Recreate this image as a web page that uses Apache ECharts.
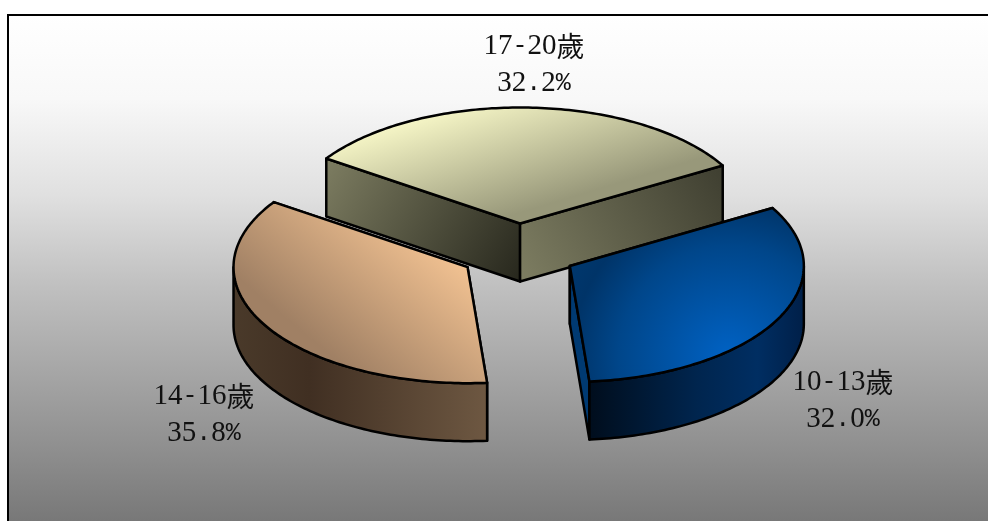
<!DOCTYPE html>
<html>
<head>
<meta charset="utf-8">
<style>
  html, body { margin: 0; padding: 0; background: #fff; }
  #chart { width: 988px; height: 521px; }
</style>
<script src="https://cdn.jsdelivr.net/npm/echarts@6/dist/echarts.min.js"></script>
</head>
<body>
<div id="chart"></div>
<script>
var categories = ["10-13歲", "14-16歲", "17-20歲"];
var shares = [32.0, 35.8, 32.2];

// pie projection, slices run clockwise from startAngle
var startAngle = 30;
var cx = 518, cy = 252.5, rx = 234, ry = 116, depth = 58, explode = 0.25;

var labelPos = [[843, 382, 419], [204, 396, 433], [534, 46, 83]];

var faces = [
  {
    top: { type: "radial", x: 0.68, y: 0.85, r: 1.05, colorStops: [
      { offset: 0, color: "#0062c4" }, { offset: 0.6, color: "#00468a" },
      { offset: 0.85, color: "#003468" }, { offset: 1, color: "#00386e" }] },
    outer: { type: "linear", x: 0, y: 0, x2: 1, y2: 0, colorStops: [
      { offset: 0, color: "#000d1c" }, { offset: 0.5, color: "#00254e" },
      { offset: 0.78, color: "#002e62" }, { offset: 1, color: "#001f48" }] },
    cutStart: "#003060", cutEnd: "#003a72"
  },
  {
    top: { type: "linear", x: 0.22, y: 0.65, x2: 0.61, y2: 0, colorStops: [
      { offset: 0, color: "#a08064" }, { offset: 1, color: "#f2c292" }] },
    outer: { type: "linear", x: 0, y: 0, x2: 1, y2: 0, colorStops: [
      { offset: 0, color: "#4a3a2a" }, { offset: 0.3, color: "#402f22" }, { offset: 1, color: "#6e5842" }] },
    cutStart: "#4a3a2a", cutEnd: "#6e5842"
  },
  {
    top: { type: "linear", x: 0.3, y: 0, x2: 0.39, y2: 1, colorStops: [
      { offset: 0, color: "#f8f8c8" }, { offset: 1, color: "#98987a" }] },
    outer: "#6e6e58",
    // cutStart is the wall left of the apex, cutEnd the one on the right
    cutStart: { type: "linear", x: 0, y: 0, x2: 1, y2: 1, colorStops: [
      { offset: 0, color: "#7e7e62" }, { offset: 1, color: "#26261c" }] },
    cutEnd: { type: "linear", x: 0, y: 1, x2: 1, y2: 0, colorStops: [
      { offset: 0, color: "#7e7e62" }, { offset: 1, color: "#3e3e30" }] }
  }
];

// digits in a serif, punctuation in a mono so the spacing stays even
function richText(str) {
  return str.replace(/\d+|[^\d歲]+|歲/g, function (m) {
    if (/\d/.test(m)) return "{n|" + m + "}";
    if (m === "歲") return "{c|" + m + "}";
    return "{p|" + m + "}";
  });
}

var textRich = {
  n: { fontFamily: "Liberation Serif", fontSize: 29, fill: "#111" },
  p: { fontFamily: "Liberation Mono", fontSize: 25, fill: "#111" },
  c: { fontFamily: "Noto Sans CJK TC", fontSize: 28, fill: "#111" }
};

function pt(ox, oy, deg, down) {
  var a = deg * Math.PI / 180;
  return [ox + rx * Math.cos(a), oy - ry * Math.sin(a) + (down || 0)];
}

function arc(ox, oy, from, to, down) {
  var pts = [];
  for (var d = from; d > to; d -= 1) pts.push(pt(ox, oy, d, down));
  pts.push(pt(ox, oy, to, down));
  return pts;
}

function shape(points, fill, z2) {
  return {
    type: "polygon",
    z2: z2,
    shape: { points: points },
    style: { fill: fill, stroke: "#000", lineWidth: 2.5, lineJoin: "round" }
  };
}

function renderSlice(params, api) {
  var i = params.dataIndex;
  var before = 0;
  for (var k = 0; k < i; k++) before += shares[k];
  var from = startAngle - before * 3.6;
  var to = from - api.value(0) * 3.6;
  var mid = (from + to) / 2 * Math.PI / 180;
  var ox = cx + explode * rx * Math.cos(mid);
  var oy = cy - explode * ry * Math.sin(mid);
  var z2 = 10 - Math.round(Math.sin(mid) * 5);
  var face = faces[i];
  var children = [];

  var a0 = pt(ox, oy, from), b0 = pt(ox, oy, to);
  var cutStart = [[ox, oy], a0, [a0[0], a0[1] + depth], [ox, oy + depth]];
  var cutEnd = [[ox, oy], b0, [b0[0], b0[1] + depth], [ox, oy + depth]];
  children.push(shape(cutStart, face.cutStart, z2));
  children.push(shape(cutEnd, face.cutEnd, z2));

  // only the front half of the rim can be seen
  var lo = Math.max(to, -180);
  var hi = Math.min(from, 0);
  if (hi > lo) {
    var upper = arc(ox, oy, hi, lo);
    var lower = arc(ox, oy, hi, lo, depth).reverse();
    children.push(shape(upper.concat(lower), face.outer, z2));
  }

  children.push(shape([[ox, oy]].concat(arc(ox, oy, from, to)), face.top, z2));

  var lp = labelPos[i];
  children.push({
    type: "text", z2: 30,
    style: { text: richText(categories[i]), x: lp[0], y: lp[1], align: "center", verticalAlign: "middle", rich: textRich }
  });
  children.push({
    type: "text", z2: 30,
    style: { text: richText(api.value(0).toFixed(1) + "%"), x: lp[0], y: lp[2], align: "center", verticalAlign: "middle", rich: textRich }
  });
  return { type: "group", children: children };
}

var chart = echarts.init(document.getElementById("chart"));
chart.setOption({
  animation: false,
  graphic: [{
    type: "rect",
    z: -1,
    shape: { x: 8, y: 15, width: 1000, height: 530 },
    style: {
      stroke: "#000",
      lineWidth: 2,
      fill: {
        type: "linear", x: 0, y: 0, x2: 0, y2: 1, colorStops: [
          { offset: 0, color: "#ffffff" },
          { offset: 0.16, color: "#f8f8f8" },
          { offset: 0.34, color: "#e0e0e0" },
          { offset: 0.51, color: "#c0c0c0" },
          { offset: 0.81, color: "#909090" },
          { offset: 1, color: "#707070" }
        ]
      }
    }
  }],
  series: [{
    type: "custom",
    coordinateSystem: "none",
    renderItem: renderSlice,
    data: shares.map(function (v, i) { return { name: categories[i], value: [v] }; })
  }]
});
</script>
</body>
</html>
